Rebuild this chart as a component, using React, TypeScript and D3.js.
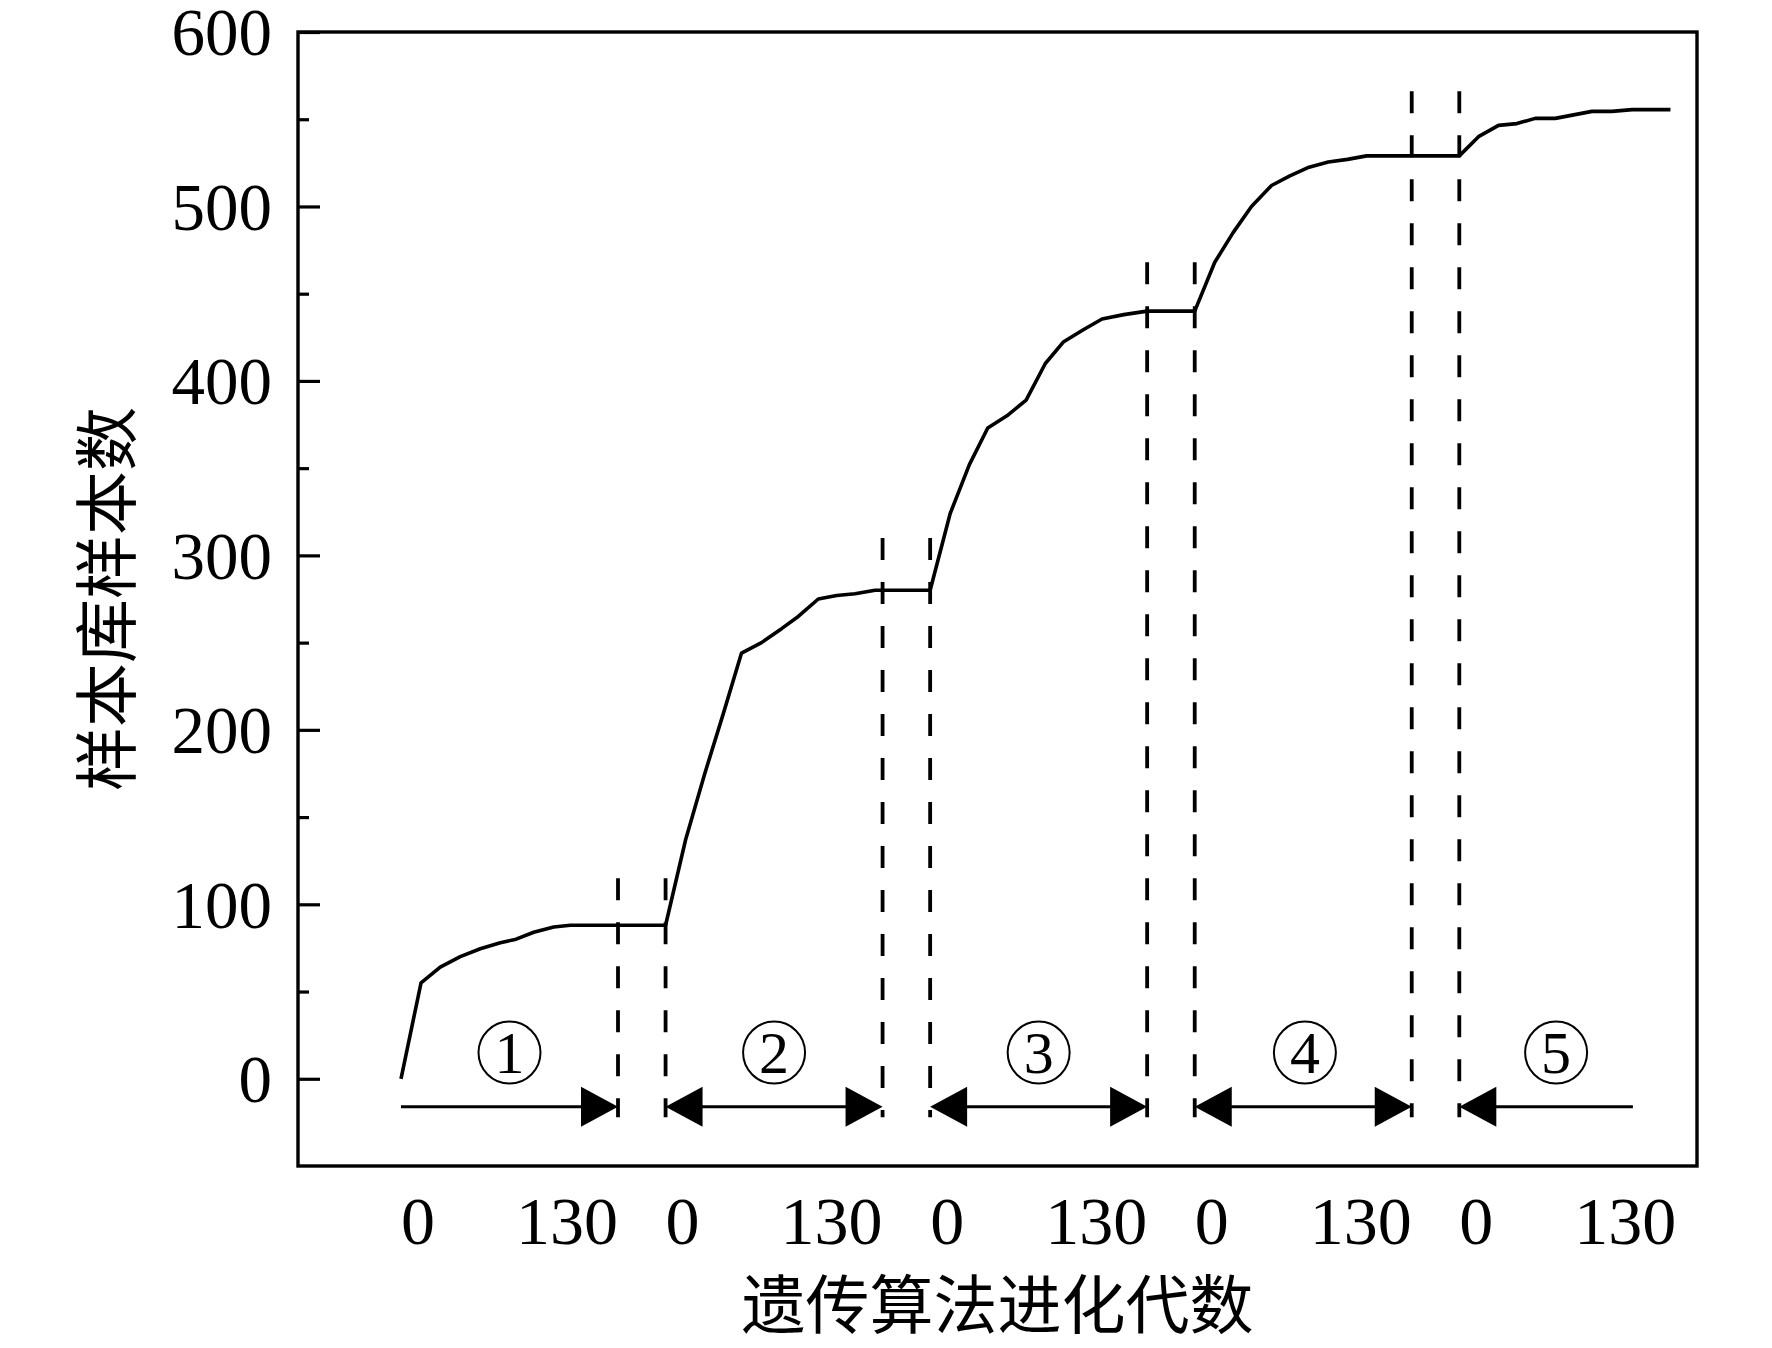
import React, { useEffect, useRef } from "react";
import * as d3 from "d3";

// generations sampled in each GA run, and library size after each one
const seg1Gens = [0, 12, 23.5, 35.5, 47.5, 59.5, 69, 79.5, 91.5, 101.5, 130];
const seg1Values = [0, 55, 64, 70, 74.5, 78, 80, 84, 87, 88, 88];
const seg2Gens = [0, 12, 23.5, 34.5, 45.5, 57.5, 69.5, 79.5, 91.5, 102.5, 113.5, 125.5, 130];
const seg2Values = [88, 137, 175, 209, 244, 250, 258, 265, 275, 277, 278, 280, 280];
const seg3Gens = [0, 12, 23.5, 34.5, 46, 57.5, 69, 80, 92, 103, 116, 130];
const seg3Values = [280, 324, 352, 373, 380, 389, 410, 422.5, 429.5, 435.5, 438, 440];
const seg4Gens = [0, 12, 23, 34, 46, 57, 68.5, 80, 91.5, 103, 130];
const seg4Values = [440, 468, 485, 500, 512, 517.5, 522.5, 525.5, 527, 529, 529];
const seg5Gens = [0, 11.5, 23.5, 34.5, 45.5, 57.5, 68.5, 79.5, 91.5, 103.5, 126.5];
const seg5Values = [529, 540, 546.5, 547.5, 550.5, 550.5, 552.5, 554.5, 554.5, 555.5, 555.5];

const segGens = [seg1Gens, seg2Gens, seg3Gens, seg4Gens, seg5Gens];
const segValues = [seg1Values, seg2Values, seg3Values, seg4Values, seg5Values];

const stageLabels = ["1", "2", "3", "4", "5"];
const stageLabelGens = [65, 65, 65, 66, 58];
const arrowStartGens = [0, 0, 0, 0, 0];
const arrowEndGens = [130, 130, 130, 130, 104];
const dashTopValues = [115, 310, 468, 566];

const genTickLabels = ["0", "130"];
const yMajorTicks = [0, 100, 200, 300, 400, 500, 600];
const yMinorTicks = [50, 150, 250, 350, 450, 550];

const W = 1772;
const H = 1348;
const frame = { left: 298, top: 32, right: 1697, bottom: 1166 };
const GEN_MAX = 130;
const GAP = 28.5; // gap between runs, in generation units
const PERIOD = GEN_MAX + GAP;

const serif = "'Liberation Serif', 'Times New Roman', serif";
const cjk = "'Noto Sans CJK SC', sans-serif";

const x = d3.scaleLinear().domain([0, 4 * PERIOD + GEN_MAX]).range([401, 1676.3]);
const y = d3.scaleLinear().domain([-50, 600]).range([frame.bottom, frame.top]);
const xPos = (seg: number, gen: number) => x(seg * PERIOD + gen);

export default function App() {
  const yAxisRef = useRef<SVGGElement>(null);
  const yMinorRef = useRef<SVGGElement>(null);

  useEffect(() => {
    if (!yAxisRef.current || !yMinorRef.current) return;
    const major = d3.select(yAxisRef.current);
    major.call(
      d3.axisLeft(y).tickValues(yMajorTicks).tickSize(-22).tickPadding(26).tickFormat(d3.format("d"))
    );
    major.select(".domain").remove();
    major.selectAll("line").attr("stroke", "#000").attr("stroke-width", 3.2);
    major.selectAll("text")
      .attr("font-family", serif)
      .attr("font-size", 67)
      .attr("fill", "#000")
      .attr("dy", "0.34em");

    const minor = d3.select(yMinorRef.current);
    minor.call(d3.axisLeft(y).tickValues(yMinorTicks).tickSize(-11).tickFormat(() => ""));
    minor.select(".domain").remove();
    minor.selectAll("line").attr("stroke", "#000").attr("stroke-width", 3.2);
  }, []);

  const points: [number, number][] = [];
  segGens.forEach((gens, i) => {
    gens.forEach((g, j) => points.push([xPos(i, g), y(segValues[i][j])]));
  });
  const line = d3.line()(points) ?? "";

  const arrowY = y(-16);
  const headLen = 37;
  const headHalf = 20;

  return (
    <div style={{ position: "absolute", left: 0, top: 0 }}>
      <svg width={W} height={H} style={{ display: "block", background: "#fff" }}>
        <rect
          x={frame.left}
          y={frame.top}
          width={frame.right - frame.left}
          height={frame.bottom - frame.top}
          fill="none"
          stroke="#000"
          strokeWidth={3.4}
        />
        <g ref={yAxisRef} transform={`translate(${frame.left},0)`} />
        <g ref={yMinorRef} transform={`translate(${frame.left},0)`} />

        {/* dashed separators between runs */}
        {dashTopValues.map((v, i) => (
          <g key={`dash${i}`} stroke="#000" strokeWidth={3.8} strokeDasharray="22,22">
            <line x1={xPos(i, GEN_MAX)} x2={xPos(i, GEN_MAX)} y1={y(v)} y2={y(-22)} />
            <line x1={xPos(i + 1, 0)} x2={xPos(i + 1, 0)} y1={y(v)} y2={y(-22)} />
          </g>
        ))}

        <path d={line} fill="none" stroke="#000" strokeWidth={3.6} strokeLinejoin="round" />

        {/* stage arrows */}
        {arrowStartGens.map((g0, i) => {
          const xa = xPos(i, g0);
          const xb = xPos(i, arrowEndGens[i]);
          const leftHead = i > 0;
          const rightHead = i < 4;
          return (
            <g key={`arrow${i}`}>
              <line
                x1={leftHead ? xa + headLen - 2 : xa}
                x2={rightHead ? xb - headLen + 2 : xb}
                y1={arrowY}
                y2={arrowY}
                stroke="#000"
                strokeWidth={3}
              />
              {leftHead && (
                <polygon
                  points={`${xa},${arrowY} ${xa + headLen},${arrowY - headHalf} ${xa + headLen},${arrowY + headHalf}`}
                  fill="#000"
                />
              )}
              {rightHead && (
                <polygon
                  points={`${xb},${arrowY} ${xb - headLen},${arrowY - headHalf} ${xb - headLen},${arrowY + headHalf}`}
                  fill="#000"
                />
              )}
            </g>
          );
        })}

        {/* circled stage numbers */}
        {stageLabels.map((s, i) => {
          const cx = xPos(i, stageLabelGens[i]);
          const cy = y(15);
          return (
            <g key={`stage${i}`}>
              <circle cx={cx} cy={cy} r={31} fill="none" stroke="#000" strokeWidth={2} />
              <text
                x={cx}
                y={cy}
                dy="0.34em"
                textAnchor="middle"
                fontFamily={serif}
                fontSize={60}
              >
                {s}
              </text>
            </g>
          );
        })}

        {/* generation labels under each run */}
        {segGens.map((_, i) => (
          <g key={`gen${i}`} fontFamily={serif} fontSize={68}>
            <text x={xPos(i, 0)} y={1244} textAnchor="start">
              {genTickLabels[0]}
            </text>
            <text x={xPos(i, GEN_MAX)} y={1244} textAnchor="end">
              {genTickLabels[1]}
            </text>
          </g>
        ))}

        <text
          x={(frame.left + frame.right) / 2}
          y={1305}
          dy="0.36em"
          textAnchor="middle"
          fontFamily={cjk}
          fontSize={64}
        >
          遗传算法进化代数
        </text>
        <text
          transform={`translate(107,${(frame.top + frame.bottom) / 2}) rotate(-90)`}
          dy="0.36em"
          textAnchor="middle"
          fontFamily={cjk}
          fontSize={64}
        >
          样本库样本数
        </text>
      </svg>
    </div>
  );
}
